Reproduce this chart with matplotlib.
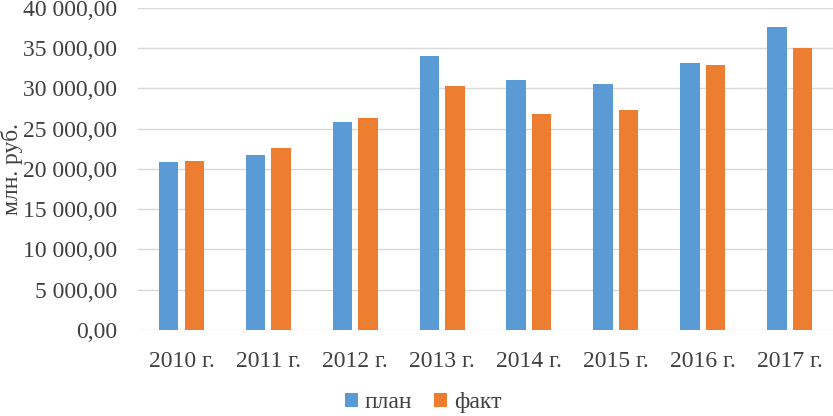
import matplotlib.pyplot as plt
import numpy as np
from matplotlib.ticker import FuncFormatter

years = ["2010 г.", "2011 г.", "2012 г.", "2013 г.", "2014 г.", "2015 г.", "2016 г.", "2017 г."]
plan = [20830, 21740, 25840, 34040, 31100, 30560, 33170, 37640]
fact = [20950, 22650, 26290, 30350, 26790, 27290, 32880, 35030]

plt.rcParams['font.family'] = ['Liberation Serif', 'DejaVu Serif']

fig = plt.figure(figsize=(8.33, 4.16), dpi=100)
ax = fig.add_axes([0.1657, 0.207, 0.8343, 0.774])

x = np.arange(len(years))
w = 0.224
ax.bar(x - 0.147, plan, w, color="#5B9BD5", label="план", zorder=3)
ax.bar(x + 0.147, fact, w, color="#ED7D31", label="факт", zorder=3)

ax.set_xlim(-0.5, len(years) - 0.5)
ax.set_ylim(0, 40000)
ax.set_yticks(np.arange(0, 40001, 5000))
ax.yaxis.set_major_formatter(FuncFormatter(lambda v, p: f"{v:,.2f}".replace(",", " ").replace(".", ",")))
ax.set_xticks(x)
ax.set_xticklabels(years)
ax.tick_params(length=0, labelsize=17, colors="#404040")
ax.tick_params(axis="x", pad=15)
ax.tick_params(axis="y", pad=15)
ax.grid(axis="y", color="#D9D9D9", linewidth=1, zorder=0)
for s in ax.spines.values():
    s.set_visible(False)
ax.set_ylabel("млн. руб.", fontsize=17, color="#404040")
ax.yaxis.set_label_coords(-0.166, 0.5)

fig.legend(loc="lower center", bbox_to_anchor=(0.508, -0.045), ncol=2, frameon=False,
           fontsize=17, handlelength=0.55, handleheight=0.55, handletextpad=0.3,
           columnspacing=0.9, labelcolor="#404040")

fig.savefig("out.png", dpi=100)
